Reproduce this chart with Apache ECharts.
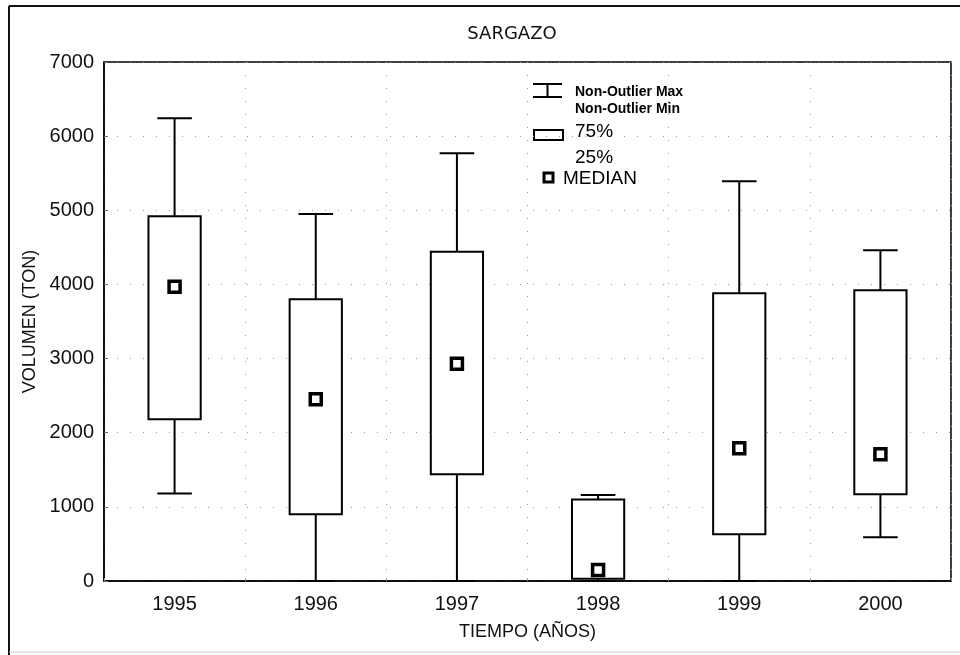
<!DOCTYPE html>
<html>
<head>
<meta charset="utf-8">
<script src="https://cdn.jsdelivr.net/npm/echarts@6/dist/echarts.min.js"></script>
<style>
  html, body { margin: 0; padding: 0; background: #fff; }
  #chart { width: 960px; height: 655px; }
</style>
</head>
<body>
<div id="chart"></div>
<script>
// Annual seaweed (sargazo) volumes, box-and-whisker summary per year
const years = ['1995', '1996', '1997', '1998', '1999', '2000'];
const nonOutlierMax = [6240, 4950, 5770, 1160, 5390, 4460];
const upperQuartile = [4920, 3800, 4440, 1100, 3880, 3920];
const medians = [3970, 2450, 2930, 150, 1790, 1710];
const lowerQuartile = [2180, 900, 1440, 30, 630, 1170];
const nonOutlierMin = [1180, 0, 0, 0, 0, 590];
const yTicks = [0, 1000, 2000, 3000, 4000, 5000, 6000, 7000];

const boxRows = years.map((y, i) => [
  y, nonOutlierMin[i], lowerQuartile[i], medians[i], upperQuartile[i], nonOutlierMax[i]
]);

const FONT = 'Liberation Sans, Arial, sans-serif';
const dotted = { color: '#9a9a9a', width: 1, type: [1, 12] };

function renderBox(params, api) {
  const idx = api.value(0);
  const band = api.size([1, 0])[0];
  const boxW = band * 0.37;
  const capW = band * 0.245;
  const pMin = api.coord([idx, api.value(1)]);
  const pQ1 = api.coord([idx, api.value(2)]);
  const pQ3 = api.coord([idx, api.value(4)]);
  const pMax = api.coord([idx, api.value(5)]);
  const cx = pQ1[0];
  const stroke = { stroke: '#000', lineWidth: 2 };
  return {
    type: 'group',
    children: [
      { type: 'line', shape: { x1: cx, y1: pQ3[1], x2: cx, y2: pMax[1] }, style: stroke },
      { type: 'line', shape: { x1: cx - capW / 2, y1: pMax[1], x2: cx + capW / 2, y2: pMax[1] }, style: stroke },
      { type: 'line', shape: { x1: cx, y1: pQ1[1], x2: cx, y2: pMin[1] }, style: stroke },
      { type: 'line', shape: { x1: cx - capW / 2, y1: pMin[1], x2: cx + capW / 2, y2: pMin[1] }, style: stroke },
      {
        type: 'rect',
        shape: { x: cx - boxW / 2, y: pQ3[1], width: boxW, height: pQ1[1] - pQ3[1] },
        style: { fill: '#fff', stroke: '#000', lineWidth: 2 }
      }
    ]
  };
}

const chart = echarts.init(document.getElementById('chart'), null, { renderer: 'canvas' });

// Legend drawn as plain graphics inside the plot
const lx = 533, ly = 84;
const legendGraphics = [
  { type: 'line', shape: { x1: lx, y1: ly, x2: lx + 29, y2: ly }, style: { stroke: '#000', lineWidth: 2 } },
  { type: 'line', shape: { x1: lx + 14.5, y1: ly, x2: lx + 14.5, y2: ly + 13 }, style: { stroke: '#000', lineWidth: 2 } },
  { type: 'line', shape: { x1: lx, y1: ly + 13, x2: lx + 29, y2: ly + 13 }, style: { stroke: '#000', lineWidth: 2 } },
  { type: 'text', x: 575, y: 92, style: { text: 'Non-Outlier Max', font: 'bold 14px ' + FONT, fill: '#000', textVerticalAlign: 'middle' } },
  { type: 'text', x: 575, y: 109, style: { text: 'Non-Outlier Min', font: 'bold 14px ' + FONT, fill: '#000', textVerticalAlign: 'middle' } },
  { type: 'rect', shape: { x: 534, y: 130, width: 29, height: 10 }, style: { fill: '#fff', stroke: '#000', lineWidth: 2 } },
  { type: 'text', x: 575, y: 132, style: { text: '75%', font: '19px ' + FONT, fill: '#000', textVerticalAlign: 'middle' } },
  { type: 'text', x: 575, y: 158, style: { text: '25%', font: '19px ' + FONT, fill: '#000', textVerticalAlign: 'middle' } },
  { type: 'rect', shape: { x: 544, y: 173, width: 9, height: 9 }, style: { fill: '#fff', stroke: '#000', lineWidth: 3 } },
  { type: 'text', x: 563, y: 179, style: { text: 'MEDIAN', font: '19px ' + FONT, fill: '#000', textVerticalAlign: 'middle' } },
  // outer frame
  { type: 'line', shape: { x1: 9, y1: 6, x2: 960, y2: 6 }, style: { stroke: '#111', lineWidth: 2 } },
  { type: 'line', shape: { x1: 9, y1: 6, x2: 9, y2: 655 }, style: { stroke: '#111', lineWidth: 2 } },
  { type: 'line', shape: { x1: 9, y1: 652, x2: 960, y2: 652 }, style: { stroke: '#ccc', lineWidth: 1 } }
];

chart.setOption({
  backgroundColor: '#fff',
  animation: false,
  title: {
    text: 'SARGAZO',
    left: 507,
    top: 20,
    textAlign: 'center',
    textStyle: { fontFamily: 'DejaVu Sans, sans-serif', fontSize: 18, fontWeight: 'normal', color: '#111' }
  },
  grid: {
    left: 104, right: 9, top: 62, bottom: 74,
    show: true, borderColor: '#000', borderWidth: 1.5, backgroundColor: 'transparent'
  },
  xAxis: {
    type: 'category',
    data: years,
    boundaryGap: true,
    name: 'TIEMPO (AÑOS)',
    nameLocation: 'middle',
    nameGap: 42,
    nameTextStyle: { fontFamily: FONT, fontSize: 18, color: '#111' },
    axisLine: { lineStyle: { color: '#000', width: 1.5 } },
    axisTick: { show: true, inside: true, length: 3, lineStyle: { color: '#999' } },
    axisLabel: { fontFamily: FONT, fontSize: 20, color: '#111', margin: 13 },
    splitLine: { show: true, interval: 0, lineStyle: dotted }
  },
  yAxis: {
    type: 'value',
    min: yTicks[0],
    max: yTicks[yTicks.length - 1],
    interval: 1000,
    name: 'VOLUMEN (TON)',
    nameLocation: 'middle',
    nameGap: 60,
    nameTextStyle: { fontFamily: FONT, fontSize: 18, color: '#111' },
    axisLine: { show: true, lineStyle: { color: '#000', width: 1.5 } },
    axisTick: { show: true, inside: true, length: 4, lineStyle: { color: '#666' } },
    axisLabel: { fontFamily: FONT, fontSize: 20, color: '#111', margin: 10, formatter: v => String(v) },
    splitLine: { show: true, lineStyle: dotted }
  },
  graphic: legendGraphics,
  series: [
    {
      type: 'custom',
      name: 'box',
      renderItem: renderBox,
      encode: { x: 0, y: [1, 2, 3, 4, 5] },
      data: boxRows,
      z: 3
    },
    {
      type: 'scatter',
      name: 'MEDIAN',
      data: medians,
      symbol: 'rect',
      symbolSize: 11,
      itemStyle: { color: '#fff', borderColor: '#000', borderWidth: 3.5, opacity: 1 },
      z: 5
    }
  ]
});
</script>
</body>
</html>
